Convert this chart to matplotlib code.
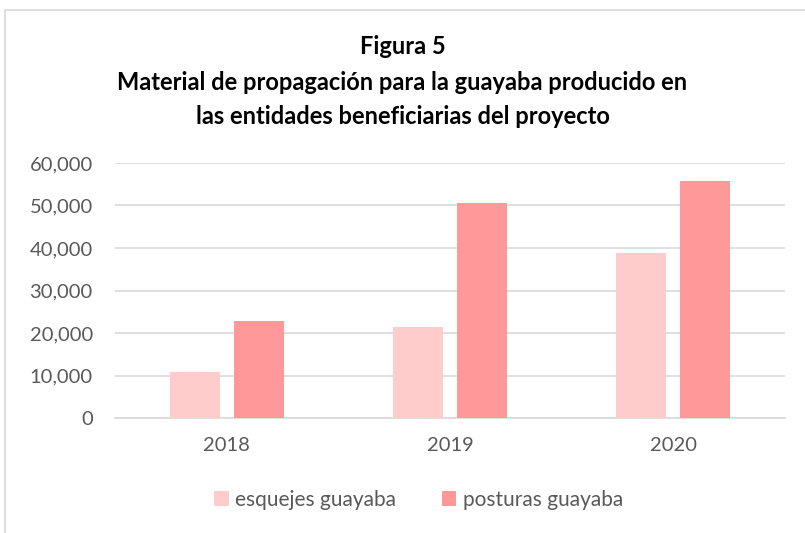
import numpy as np
import matplotlib
matplotlib.use("Agg")
from matplotlib import pyplot as plt
from matplotlib.patches import Rectangle

years = ["2018", "2019", "2020"]
esquejes = [10800, 21500, 38800]
posturas = [22800, 50500, 55800]
series_names = ["esquejes guayaba", "posturas guayaba"]

plt.rcParams['font.family'] = ['Lato', 'DejaVu Sans']

fig = plt.figure(figsize=(8.05, 5.33), dpi=100)
# light frame around the chart area
fig.patches.append(Rectangle((5/805, -0.05), 1.2, (533-10)/533 + 0.05,
                             transform=fig.transFigure, fill=False,
                             edgecolor="#D9D9D9", linewidth=1.2))

ax = fig.add_axes([115/805, (533-418)/533, 670/805, 255/533])
x = np.arange(len(years))
w = 0.223
off = 0.143
ax.bar(x - off, esquejes, w, color="#FFCCCC", label=series_names[0], zorder=3)
ax.bar(x + off, posturas, w, color="#FF9999", label=series_names[1], zorder=3)

ax.set_xlim(-0.5, 2.5)
ax.set_ylim(0, 60000)
ax.set_yticks(range(0, 60001, 10000))
ax.yaxis.set_major_formatter(matplotlib.ticker.FuncFormatter(lambda v, p: f"{int(v):,}"))
ax.set_xticks(x)
ax.set_xticklabels(years)
ax.grid(axis="y", color="#D9D9D9", linewidth=1.2, zorder=0)
for s in ["top", "right", "left"]:
    ax.spines[s].set_visible(False)
ax.spines["bottom"].set_color("#D9D9D9")
ax.spines["bottom"].set_linewidth(1.2)
ax.tick_params(length=0, labelsize=14.5, colors="#595959")
ax.tick_params(axis="y", pad=16)
ax.tick_params(axis="x", pad=14)

title_lines = ["Figura 5",
               "Material de propagación para la guayaba producido en",
               "las entidades beneficiarias del proyecto"]
for ty, line in zip([47, 83, 117], title_lines):
    fig.text(0.5, 1 - ty/533, line, ha="center", va="center",
             fontsize=17, fontweight="bold", color="black")

fig.legend(loc="center", bbox_to_anchor=(0.52, 1 - 500/533), ncol=2, frameon=False,
           fontsize=15, labelcolor="#595959", handlelength=0.7, handleheight=0.7,
           handletextpad=0.3, columnspacing=2.2)

fig.savefig("out.png", dpi=100)
